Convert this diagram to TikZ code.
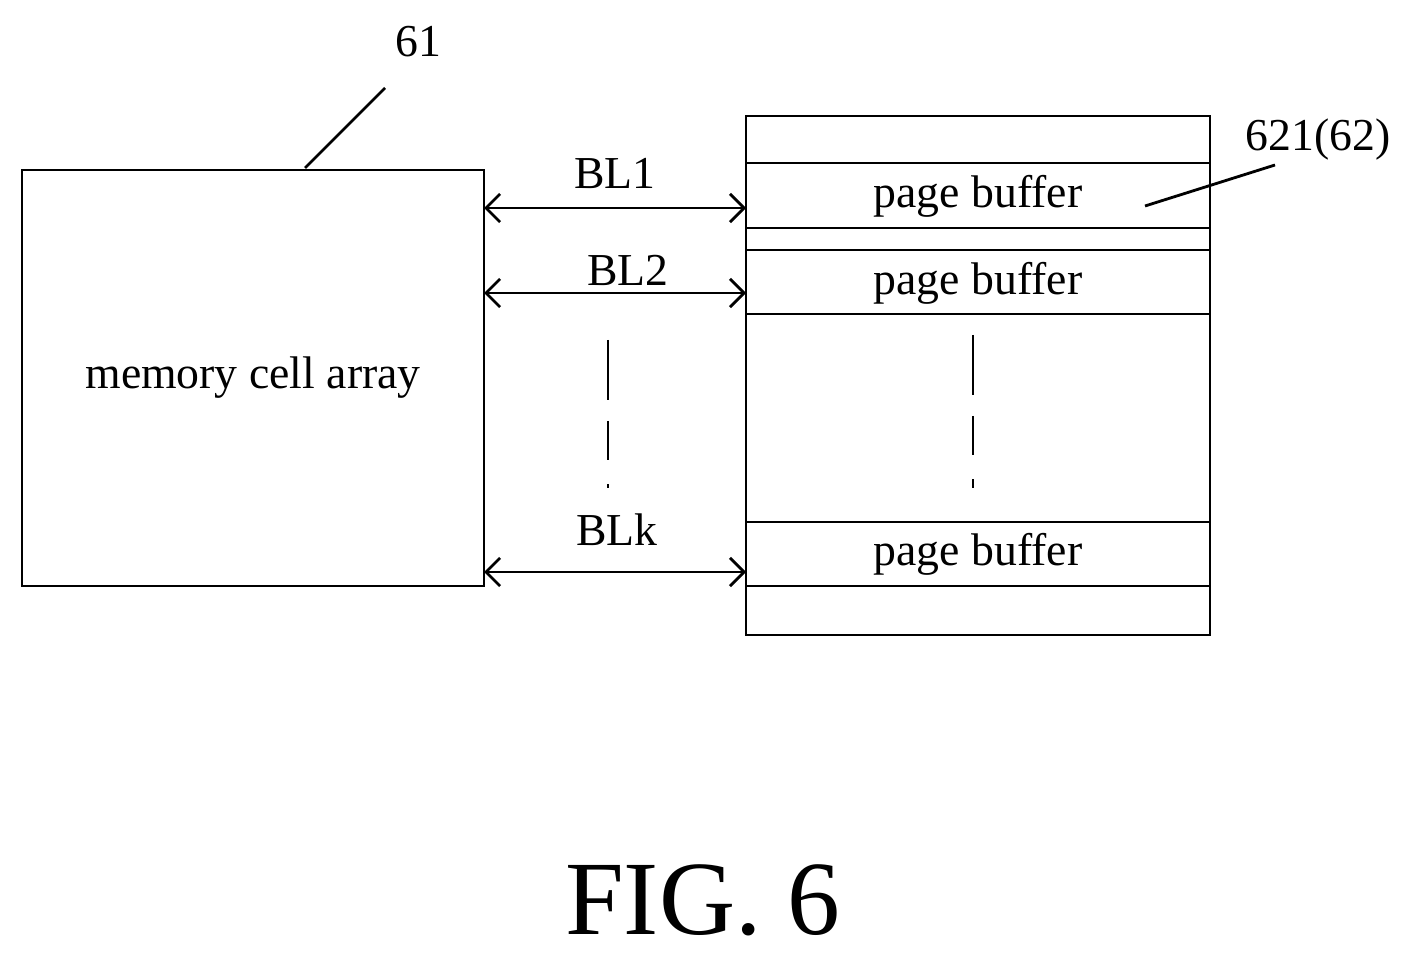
\documentclass[tikz,border=0pt]{standalone}
\usepackage{fontspec}
\setmainfont{Liberation Serif}
\usetikzlibrary{arrows.meta}
\begin{document}
\begin{tikzpicture}[x=0.01cm,y=-0.01cm,
  txt/.style={font=\fontsize{13}{15}\selectfont},
  bl/.style={{Straight Barb[length=4pt]}-{Straight Barb[length=4pt]}, thick},
  dashv/.style={dash pattern=on 17pt off 6pt on 11pt off 7pt}]
\useasboundingbox (0,0) rectangle (1412,958);

\draw[thick] (22,170) rectangle (484,586);
\node[txt] (mca) at (253,378) {memory cell array};
\node[txt] (n61) at (418,42) {61};
\draw[thick] (305,168) -- (385,88);

\draw[thick] (746,116) rectangle (1210,635);
\draw[thick] (746,163) rectangle (1210,228);
\draw[thick] (746,250) rectangle (1210,314);
\draw[thick] (746,522) rectangle (1210,586);
\node[txt] (pb1) at (978,196) {page buffer};
\node[txt] (pb2) at (978,283) {page buffer};
\node[txt] (pbk) at (978,554) {page buffer};
\node[txt] (n621) at (1318,140) {621(62)};
\draw[thick] (1145,206) -- (1275,165);

\coordinate (a1) at (484,208); \coordinate (b1) at (746,208);
\coordinate (a2) at (484,293); \coordinate (b2) at (746,293);
\coordinate (ak) at (484,572); \coordinate (bk) at (746,572);
\draw[bl] (a1) -- (b1);
\draw[bl] (a2) -- (b2);
\draw[bl] (ak) -- (bk);
\node[txt] (l1) at (615,173) {BL1};
\node[txt] (l2) at (628,270) {BL2};
\node[txt] (lk) at (617,530) {BLk};

\draw[thick, dashv] (608,340) -- (608,488);
\draw[thick, dashv] (973,335) -- (973,488);

\node[font=\fontsize{30}{34}\selectfont] (fig) at (703,900) {FIG. 6};
\end{tikzpicture}
\end{document}
